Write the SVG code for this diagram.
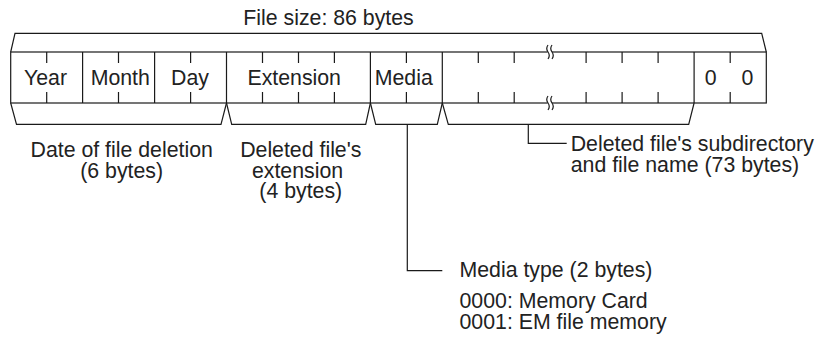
<svg xmlns="http://www.w3.org/2000/svg" width="830" height="346" viewBox="0 0 830 346">
<style>
.ln{fill:none;stroke:#1a1a1a;stroke-width:1.2}
.t{font-family:"Liberation Sans",Arial,sans-serif;font-size:21.3px;fill:#222}
.m{text-anchor:middle}
</style>
<rect width="830" height="346" fill="#fff"/>
<g id="title"><text class="t" x="243.3" y="25">File size: 86 bytes</text></g>
<g id="size-brace"><path class="ln" d="M10.7,52 L15,33.3 L761.7,33.3 L766.3,52"/></g>
<g id="frame">
<rect class="ln" x="10.7" y="52" width="755.6" height="51"/>
<path class="ln" d="M82.6,52V103M154.6,52V103M226.5,52V103M370.4,52V103M442.3,52V103M694.1,52V103"/>
<path class="ln" d="M46.7,52v11M46.7,92v11M118.5,52v11M118.5,92v11M190.6,52v11M190.6,92v11M262.5,52v11M262.5,92v11M298.5,52v11M298.5,92v11M334.4,52v11M334.4,92v11M406.4,52v11M406.4,92v11M478.3,52v11M478.3,92v11M514.2,52v11M514.2,92v11M586.1,52v11M586.1,92v11M622.1,52v11M622.1,92v11M658.1,52v11M658.1,92v11M730.2,52v11M730.2,92v11"/>
</g>
<g id="break">
<rect x="547.6" y="50" width="4.4" height="5" fill="#fff"/>
<rect x="547.6" y="101" width="4.4" height="5" fill="#fff"/>
<path class="ln" d="M548,45 q-2.5,3.5 0,7 q2.5,3.5 0,7 M552,45 q-2.5,3.5 0,7 q2.5,3.5 0,7 M548,96 q-2.5,3.5 0,7 q2.5,3.5 0,7 M552,96 q-2.5,3.5 0,7 q2.5,3.5 0,7"/>
</g>
<g id="year"><text class="t m" x="45.5" y="85">Year</text></g>
<g id="month"><text class="t m" x="120.3" y="85">Month</text></g>
<g id="day"><text class="t m" x="190" y="85">Day</text></g>
<g id="extension"><text class="t m" x="294.2" y="85">Extension</text></g>
<g id="media"><text class="t m" x="403.8" y="85">Media</text></g>
<g id="zeros"><text class="t m" x="710.8" y="85">0</text><text class="t m" x="747.5" y="85">0</text></g>
<g id="braces">
<path class="ln" d="M10.7,103 L16.5,124.3 L221,124.3 L226.5,103"/>
<path class="ln" d="M226.5,103 L231.7,124.3 L365.7,124.3 L370.4,103"/>
<path class="ln" d="M370.4,103 L375.7,124.3 L437.3,124.3 L442.3,103"/>
<path class="ln" d="M442.3,103 L448.3,124.3 L688.7,124.3 L694.1,103"/>
</g>
<g id="connectors">
<path class="ln" d="M528.3,124.3 V143.3 H566.7"/>
<path class="ln" d="M407.3,124.3 V270.7 H442.3"/>
</g>
<g id="date-label"><text class="t m" x="121.7" y="157">Date of file deletion</text><text class="t m" x="121.7" y="178">(6 bytes)</text></g>
<g id="ext-label"><text class="t m" x="300.8" y="157">Deleted file's</text><text class="t m" x="297.5" y="177.5">extension</text><text class="t m" x="300.8" y="198">(4 bytes)</text></g>
<g id="name-label"><text class="t" x="570.7" y="150.5">Deleted file's subdirectory</text><text class="t" x="570.7" y="171.5">and file name (73 bytes)</text></g>
<g id="media-label"><text class="t" x="459.5" y="277">Media type (2 bytes)</text><text class="t" x="459.5" y="308">0000: Memory Card</text><text class="t" x="459.5" y="328.5">0001: EM file memory</text></g>
</svg>
